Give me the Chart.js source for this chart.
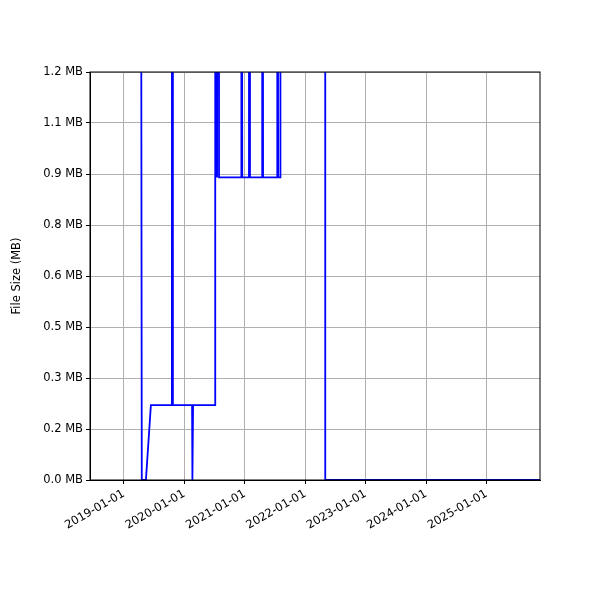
<!DOCTYPE html>
<html><head><meta charset="utf-8">
<script src="https://cdn.jsdelivr.net/npm/chart.js@4"></script>
<style>html,body{margin:0;padding:0;background:#fff}#w{width:600px;height:600px}</style>
</head><body><div id="w"><canvas id="c"></canvas></div>
<script>
const dates = ["2019-04-07","2019-04-19","2019-05-14","2019-06-13","2019-10-18","2019-10-19","2019-10-24","2020-02-17","2020-02-19","2020-02-23","2020-07-05","2020-07-06","2020-07-15","2020-07-17","2020-07-27","2020-07-29","2020-12-10","2020-12-11","2020-12-16","2021-01-26","2021-01-27","2021-02-01","2021-04-15","2021-04-16","2021-04-21","2021-07-15","2021-07-16","2021-07-21","2021-08-03","2021-08-04","2022-05-01","2022-05-02","2025-11-20"];
const sizesMB = [5,0,0,0.22,0.22,5,0.22,0.22,0,0.22,0.22,5,5,0.89,5,0.89,0.89,5,0.89,0.89,5,0.89,0.89,5,0.89,0.89,5,0.89,0.89,5,5,0,0];
const yTicks = [0,0.15,0.3,0.45,0.6,0.75,0.9,1.05,1.2];
const yTickLabels = ["0.0 MB","0.2 MB","0.3 MB","0.5 MB","0.6 MB","0.8 MB","0.9 MB","1.1 MB","1.2 MB"];
const xTickDates = ["2019-01-01","2020-01-01","2021-01-01","2022-01-01","2023-01-01","2024-01-01","2025-01-01"];
const xMin = "2018-06-10", xMax = "2025-11-20";

const t = s => Date.parse(s+"T00:00:00Z");
const pts = dates.map((d,i)=>({x:t(d),y:sizesMB[i]}));
const frame = {id:'frame',afterDraw(ch){const a=ch.chartArea,c=ch.ctx;c.save();c.strokeStyle='#000';c.lineWidth=1;c.strokeRect(a.left,a.top,a.right-a.left,a.bottom-a.top);c.restore();}};
const F = {family:'DejaVu Sans',size:11.5};
new Chart(document.getElementById('c'),{
 type:'line',
 data:{datasets:[{data:pts,borderColor:'#0000ff',borderWidth:1.8,pointRadius:0,tension:0,fill:false}]},
 options:{responsive:true,maintainAspectRatio:false,animation:false,
  layout:{padding:{top:72,right:60,left:10,bottom:0}},
  plugins:{legend:{display:false},tooltip:{enabled:false}},
  scales:{
   x:{type:'linear',min:t(xMin),max:t(xMax),
    afterBuildTicks(s){s.ticks=xTickDates.map(d=>({value:t(d)}));},
    afterFit(s){s.height=120;},
    grid:{color:'#b0b0b0',drawTicks:true,tickLength:4,tickColor:'#000'},
    border:{color:'#000'},
    ticks:{color:'#000',font:F,minRotation:30,maxRotation:30,
     callback:(v)=>new Date(v).toISOString().slice(0,10)}},
   y:{min:0,max:1.2,
    afterBuildTicks(s){s.ticks=yTicks.map(v=>({value:v}));},
    afterFit(s){s.width=80;},
    grid:{color:'#b0b0b0',tickLength:4,tickColor:'#000'},
    border:{color:'#000'},
    title:{display:true,text:'File Size (MB)',color:'#000',font:F,padding:0},
    ticks:{color:'#000',font:F,
     callback:(v)=>{const i=yTicks.findIndex(q=>Math.abs(q-v)<1e-9);return i>=0?yTickLabels[i]:'';}}}
  }},
 plugins:[frame]
});
</script></body></html>
